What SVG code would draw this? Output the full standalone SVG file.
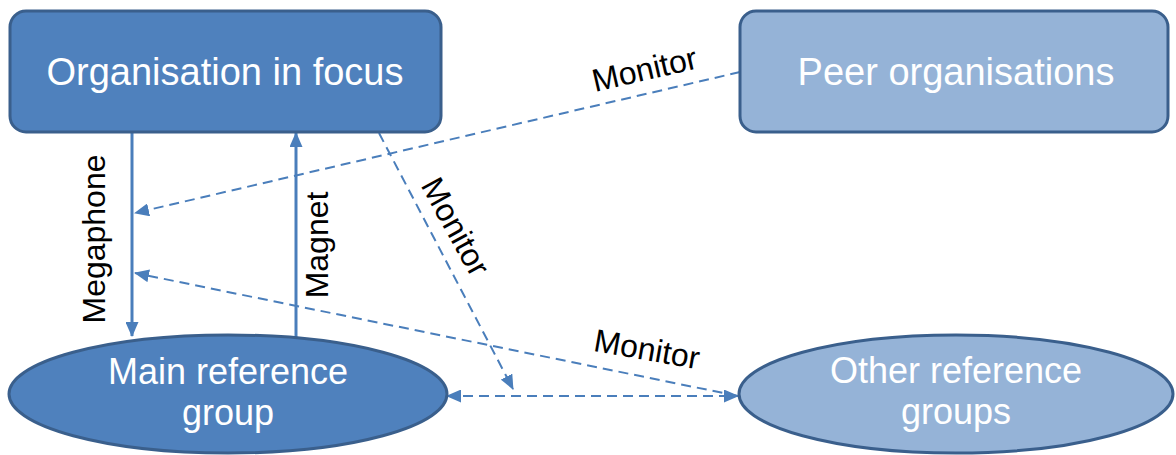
<svg xmlns="http://www.w3.org/2000/svg" width="1176" height="455" viewBox="0 0 1176 455">
<style>
.dark{fill:#4F81BD;stroke:#3A5F8C;stroke-width:3}
.light{fill:#95B3D7;stroke:#3A5F8C;stroke-width:3}
.ntxt{font-family:"Liberation Sans",Arial,sans-serif;font-size:38px;fill:#FFFFFF;text-anchor:middle}
.etxt{font-family:"Liberation Sans",Arial,sans-serif;font-size:36px;fill:#FFFFFF;text-anchor:middle}
.lbl{font-family:"Liberation Sans",Arial,sans-serif;font-size:32px;fill:#000000;text-anchor:middle}
.solid{stroke:#4A7EBB;stroke-width:3;fill:none}
.dash{stroke:#4A7EBB;stroke-width:2;fill:none;stroke-dasharray:10 6}
</style>
<defs>
<marker id="ah" markerUnits="userSpaceOnUse" markerWidth="15" markerHeight="13" refX="14" refY="6.5" orient="auto-start-reverse">
<path d="M0,0 L15,6.5 L0,13 Z" fill="#4A7EBB"/>
</marker>
</defs>
<g id="connectors">
<line class="solid" x1="132" y1="133" x2="132" y2="336" marker-end="url(#ah)"/>
<line class="solid" x1="296" y1="337" x2="296" y2="133" marker-end="url(#ah)"/>
<line class="dash" x1="740" y1="72" x2="135" y2="213" marker-end="url(#ah)"/>
<line class="dash" x1="379" y1="133" x2="513" y2="389" marker-end="url(#ah)"/>
<line class="dash" x1="738" y1="396" x2="135" y2="273" marker-end="url(#ah)"/>
<line class="dash" x1="447" y1="396" x2="738" y2="396" marker-start="url(#ah)" marker-end="url(#ah)"/>
<text class="lbl" transform="translate(105,239) rotate(-90)">Megaphone</text>
<text class="lbl" transform="translate(328,245) rotate(-90)">Magnet</text>
<text class="lbl" transform="translate(647,80) rotate(-13)">Monitor</text>
<text class="lbl" transform="translate(446,232) rotate(61)">Monitor</text>
<text class="lbl" transform="translate(645,360) rotate(10)">Monitor</text>
</g>
<g id="org-focus">
<rect class="dark" x="10" y="11" width="431" height="121" rx="16"/>
<text class="ntxt" x="225" y="85">Organisation in focus</text>
</g>
<g id="peer-orgs">
<rect class="light" x="740" y="11" width="428" height="121" rx="16"/>
<text class="ntxt" x="956" y="85">Peer organisations</text>
</g>
<g id="main-ref">
<ellipse class="dark" cx="228" cy="394" rx="219" ry="59"/>
<text class="etxt" x="228" y="384">Main reference</text>
<text class="etxt" x="228" y="425">group</text>
</g>
<g id="other-ref">
<ellipse class="light" cx="956" cy="394" rx="217" ry="59"/>
<text class="etxt" x="956" y="383">Other reference</text>
<text class="etxt" x="956" y="424">groups</text>
</g>
</svg>
